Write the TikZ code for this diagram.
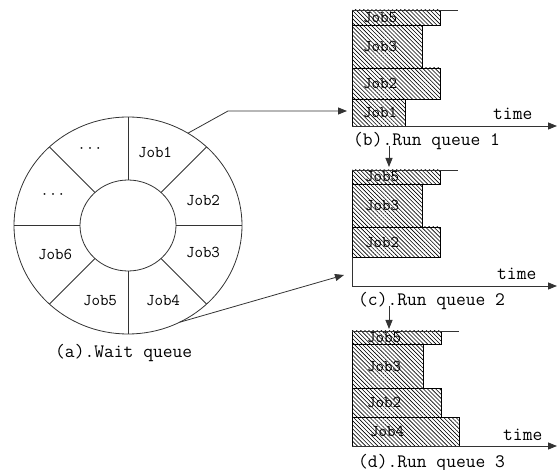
\documentclass[tikz,border=0pt]{standalone}
\usepackage{fontspec}
\usetikzlibrary{shapes.geometric,patterns.meta,arrows.meta}

\begin{document}
\begin{tikzpicture}[x=1pt,y=-1pt,>={Triangle[length=9pt,width=7pt]}]
        \tikzstyle{ring}=[ellipse,draw=black!80,line width=0.8pt,outer sep=0pt,inner sep=0pt]
        \tikzstyle{job}=[rectangle,draw=black,line width=0.8pt,pattern={Lines[angle=-45,distance=2.9pt,line width=0.6pt]},anchor=north west,outer sep=0pt,inner sep=0pt]
        \tikzstyle{lbl}=[font=\ttfamily\fontsize{16.5}{18}\selectfont,inner sep=0pt]
        \tikzstyle{caption}=[font=\ttfamily\fontsize{19}{21}\selectfont,inner sep=0pt,anchor=base west]
        \tikzstyle{wire}=[draw=black!80,line width=0.8pt]
        \tikzstyle{link}=[wire,->]
        \useasboundingbox (0,0) rectangle (557,470);
       % wait queue
       \begin{scope}
         \node [ring,minimum width=228,minimum height=217] (wait) at (128,225.5) {};
         \node [ring,minimum width=96,minimum height=91] (hub) at (128,225.5) {};
         \foreach \a in {0,45,...,315}
           \path[wire] (hub.\a) -- (wait.\a);
         \node [lbl] (w1) at (155,152) {Job1};
         \node [lbl] (w2) at (203,200) {Job2};
         \node [lbl] (w3) at (203,252) {Job3};
         \node [lbl] (w4) at (163,300) {Job4};
         \node [lbl] (w5) at (100,301) {Job5};
         \node [lbl] (w6) at (55,254) {Job6};
         \node [lbl] (w7) at (53,197) {···};
         \node [lbl] (w8) at (90,151) {···};
         \node [caption] (capa) at (55,358) {(a).Wait queue};
       \end{scope}
       % run queue 1
       \begin{scope}
         \node [job,minimum width=88,minimum height=15] (b5) at (352,10) {};
         \node [job,minimum width=70,minimum height=43] (b3) at (b5.south west) {};
         \node [job,minimum width=88,minimum height=31] (b2) at (b3.south west) {};
         \node [job,minimum width=53,minimum height=27] (b1) at (b2.south west) {};
         \node [lbl,anchor=west] (lb5) at ([xshift=11]b5.west) {Job5};
         \node [lbl,anchor=west] (lb3) at ([xshift=11]b3.west) {Job3};
         \node [lbl,anchor=west] (lb2) at ([xshift=11]b2.west) {Job2};
         \node [lbl,anchor=west] (lb1) at ([xshift=11]b1.west) {Job1};
         \coordinate (btop) at (458,10);
         \coordinate (bend) at (557,126);
         \path[wire] (b5.north west) -- (btop);
         \path[link] (b1.south west) -- (bend);
         \node [caption] (tb) at (493,120) {time};
         \node [caption] (capb) at (353,146) {(b).Run queue 1};
       \end{scope}
       % run queue 2
       \begin{scope}
         \node [job,minimum width=88,minimum height=14] (c5) at (352,170) {};
         \node [job,minimum width=70,minimum height=43] (c3) at (c5.south west) {};
         \node [job,minimum width=88,minimum height=30] (c2) at (c3.south west) {};
         \node [lbl,anchor=west] (lc5) at ([xshift=13]c5.west) {Job5};
         \node [lbl,anchor=west] (lc3) at ([xshift=13]c3.west) {Job3};
         \node [lbl,anchor=west] (lc2) at ([xshift=13]c2.west) {Job2};
         \coordinate (ctop) at (458,170);
         \coordinate (corner) at (352,286);
         \coordinate (cend) at (557,286);
         \path[wire] (c5.north west) -- (ctop);
         \path[link] (c2.south west) -- (corner) -- (cend);
         \node [caption] (tc) at (497,280) {time};
         \node [caption] (capc) at (358,306) {(c).Run queue 2};
       \end{scope}
       % run queue 3
       \begin{scope}
         \node [job,minimum width=89,minimum height=13] (d5) at (352,331) {};
         \node [job,minimum width=71,minimum height=44] (d3) at (d5.south west) {};
         \node [job,minimum width=89,minimum height=29] (d2) at (d3.south west) {};
         \node [job,minimum width=107,minimum height=29] (d4) at (d2.south west) {};
         \node [lbl,anchor=west] (ld5) at ([xshift=15]d5.west) {Job5};
         \node [lbl,anchor=west] (ld3) at ([xshift=15]d3.west) {Job3};
         \node [lbl,anchor=west] (ld2) at ([xshift=15]d2.west) {Job2};
         \node [lbl,anchor=west] (ld4) at ([xshift=18]d4.west) {Job4};
         \coordinate (dtop) at (459,331);
         \coordinate (dend) at (557,446);
         \path[wire] (d5.north west) -- (dtop);
         \path[link] (d4.south west) -- (dend);
         \node [caption] (td) at (503,440) {time};
         \node [caption] (capd) at (358,467) {(d).Run queue 3};
       \end{scope}
       % connectors
       \coordinate (knee) at (228,111);
       \coordinate (in1) at (347,111);
       \coordinate (in2) at (344,275);
       \path[link] (wait.57) -- (knee) -- (in1);
       \path[link] (wait.298) -- (in2);
       \path[link] ([xshift=36]capb.base west) -- ([xshift=37,yshift=3]c5.north west);
       \path[link] ([xshift=31]capc.base west) -- ([xshift=37,yshift=2]d5.north west);
      \end{tikzpicture}
\end{document}
